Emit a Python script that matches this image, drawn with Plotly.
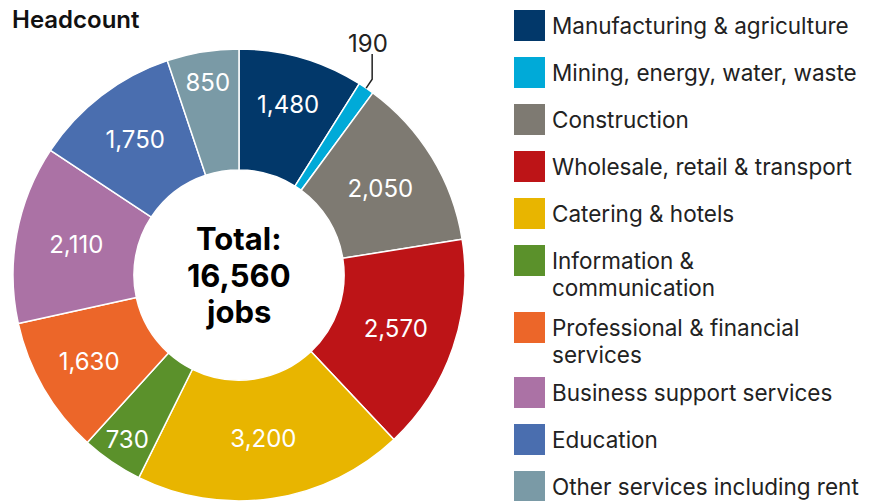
import math
import plotly.graph_objects as go

# Jobs by sector (headcount)
sectors = [
    "Manufacturing & agriculture",
    "Mining, energy, water, waste",
    "Construction",
    "Wholesale, retail & transport",
    "Catering & hotels",
    "Information &<br>communication",
    "Professional & financial<br>services",
    "Business support services",
    "Education",
    "Other services including rent",
]
jobs = [1480, 190, 2050, 2570, 3200, 730, 1630, 2110, 1750, 850]
colors = [
    "#02386A", "#00AAD8", "#7E7A72", "#BD1417", "#E8B500",
    "#5B912B", "#EC6629", "#AB72A5", "#4A6EAF", "#7A9AA6",
]
# slice that is labelled outside the ring with a leader line
outside_idx = 1

W, H = 869, 501
FONT = "Inter"

total = sum(jobs)
slice_text = ["" if i == outside_idx else f"{v:,}" for i, v in enumerate(jobs)]

# donut geometry in pixels
cx_px, r_px = 239, 226
dom_top_px = H - 2 * r_px
cy_px = dom_top_px + r_px


def px(x):
    return x / W


def py(y):
    return 1 - y / H


fig = go.Figure(
    go.Pie(
        labels=[s.replace("<br>", " ") for s in sectors],
        values=jobs,
        text=slice_text,
        textinfo="text",
        textposition="inside",
        insidetextorientation="horizontal",
        insidetextfont=dict(family=FONT, size=24, color="white"),
        marker=dict(colors=colors, line=dict(color="white", width=1.5)),
        sort=False,
        direction="clockwise",
        rotation=0,
        hole=0.465,
        showlegend=False,
        domain=dict(x=[px(cx_px - r_px), px(cx_px + r_px)], y=[0, py(dom_top_px)]),
    )
)

annotations = []
shapes = []

# chart title
annotations.append(dict(
    x=px(10), y=py(20), xref="paper", yref="paper", xanchor="left", yanchor="middle",
    text="Headcount", showarrow=False,
    font=dict(family=FONT, size=24, color="#111111", weight=600),
))

# total in the hole, one line per annotation
center_lines = ["Total:", f"{total:,}", "jobs"]
center_gap = 36
for k, line in enumerate(center_lines):
    yc = cy_px + (k - (len(center_lines) - 1) / 2) * center_gap
    annotations.append(dict(
        x=px(cx_px), y=py(yc), xref="paper", yref="paper", xanchor="center", yanchor="middle",
        text=f"<b>{line}</b>", showarrow=False,
        font=dict(family=FONT, size=31, color="#000000"),
    ))

# leader line for the thin slice: from the outer edge at the slice midpoint
mid_frac = (sum(jobs[:outside_idx]) + jobs[outside_idx] / 2) / total
theta = 2 * math.pi * mid_frac
ex = cx_px + r_px * math.sin(theta)
ey = cy_px - r_px * math.cos(theta)
kx, ky = ex + 6, ey - 9
tx, ty = kx, 54
shapes.append(dict(
    type="path", xref="paper", yref="paper",
    path=f"M {px(ex)} {py(ey)} L {px(kx)} {py(ky)} L {px(tx)} {py(ty)}",
    line=dict(color="#222222", width=1.5),
))
annotations.append(dict(
    x=px(tx - 4), y=py(ty - 11), xref="paper", yref="paper", xanchor="center", yanchor="middle",
    text=f"{jobs[outside_idx]:,}", showarrow=False,
    font=dict(family=FONT, size=24, color="#222222"),
))

# legend: colour squares with sector names
sq_left, sq_size, text_left = 514, 31, 550
sq_tops = [10, 57, 104, 151, 198, 245, 312, 377, 424, 471]
line_h = 27
for name, col, top in zip(sectors, colors, sq_tops):
    shapes.append(dict(
        type="rect", xref="paper", yref="paper",
        x0=px(sq_left), x1=px(sq_left + sq_size), y0=py(top + sq_size), y1=py(top),
        fillcolor=col, line=dict(width=0),
    ))
    for k, part in enumerate(name.split("<br>")):
        yc = top + sq_size / 2 + k * line_h
        annotations.append(dict(
            x=px(text_left), y=py(yc), xref="paper", yref="paper", xanchor="left", yanchor="middle",
            align="left", text=part, showarrow=False,
            font=dict(family=FONT, size=22.5, color="#222222"),
        ))

fig.update_layout(
    width=W, height=H,
    margin=dict(l=0, r=0, t=0, b=0),
    paper_bgcolor="white", plot_bgcolor="white",
    annotations=annotations, shapes=shapes,
)

fig.write_html("out.html")
